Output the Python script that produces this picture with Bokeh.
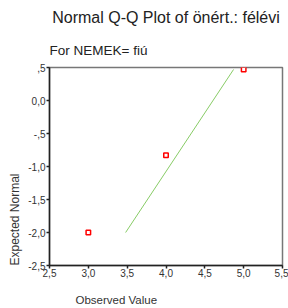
from bokeh.plotting import figure
from bokeh.models import Range1d, FixedTicker, Title
from bokeh.embed import file_html
from bokeh.resources import INLINE

# data
obs = [3.0, 4.0, 5.0]
expected = [-2.0, -0.83, 0.47]
line_x = [3.48, 4.87]
line_y = [-2.0, 0.47]

x_ticks = [2.5, 3.0, 3.5, 4.0, 4.5, 5.0, 5.5]
x_tick_labels = ["2,5", "3,0", "3,5", "4,0", "4,5", "5,0", "5,5"]
y_ticks = [-2.5, -2.0, -1.5, -1.0, -0.5, 0.0, 0.5]
y_tick_labels = ["-2,5", "-2,0", "-1,5", "-1,0", "-,5", "0,0", ",5"]

title_text = "Normal Q-Q Plot of önért.: félévi"
subtitle_text = "For NEMEK= fiú"
x_label = "Observed Value"
y_label = "Expected Normal"

FONT = "Liberation Sans"

p = figure(width=288, height=308, output_backend="svg", toolbar_location=None,
           x_range=Range1d(2.5, 5.5), y_range=Range1d(-2.5, 0.5),
           min_border_left=49, min_border_right=6, min_border_top=67,
           min_border_bottom=43)
p.background_fill_color = "white"
p.border_fill_color = "white"
p.outline_line_color = "#777777"
p.outline_line_width = 1.5
p.xgrid.visible = False
p.ygrid.visible = False

for ax, ticks, labels in ((p.xaxis[0], x_ticks, x_tick_labels), (p.yaxis[0], y_ticks, y_tick_labels)):
    ax.ticker = FixedTicker(ticks=ticks)
    ax.major_label_overrides = {t: l for t, l in zip(ticks, labels)}
    ax.minor_tick_line_color = None
    ax.major_tick_in = 0
    ax.major_tick_out = 3
    ax.major_tick_line_color = "#222222"
    ax.major_tick_line_width = 1.5
    ax.axis_line_color = "#222222"
    ax.axis_line_width = 1.5
    ax.major_label_text_font = FONT
    ax.major_label_text_font_size = "10px"
    ax.major_label_text_color = "#333333"
p.xaxis[0].major_label_standoff = 0
p.yaxis[0].major_label_standoff = 1

p.line(line_x, line_y, line_color="#88cc66", line_width=1)
p.scatter(obs, expected, marker="square", size=4.5, line_color="#ff0000",
          fill_color="white", line_width=1.5)

# main title (outermost) is the plot title; the subtitle sits between it and the plot
p.title.text = title_text
p.title.align = "center"
p.title.text_font = FONT
p.title.text_font_size = "16px"
p.title.text_font_style = "normal"
p.title.text_color = "#222222"
p.title.standoff = 10

p.add_layout(Title(text=subtitle_text, align="left", text_font=FONT,
                   text_font_size="13.5px", text_font_style="normal",
                   text_color="#222222", standoff=20), "above")

p.add_layout(Title(text=y_label, align="left", text_font=FONT,
                   text_font_size="12px", text_font_style="normal",
                   text_color="#333333", standoff=8), "left")
# a leading blank line pushes the axis title down to the bottom edge, as in the reference
p.add_layout(Title(text="\n" + x_label, align="left", text_font=FONT,
                   text_font_size="11.5px", text_font_style="normal",
                   text_color="#333333", standoff=0, offset=26), "below")

open("out.html", "w").write(file_html(p, INLINE))
